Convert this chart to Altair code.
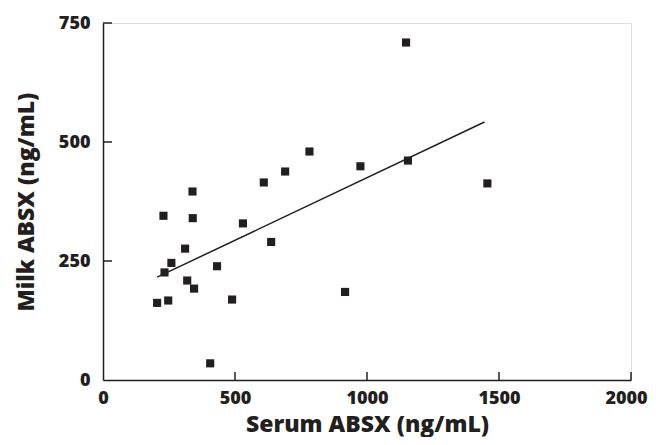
import altair as alt
import pandas as pd

serum = [782, 975, 690, 609, 339, 229, 340, 530, 637, 311, 259, 233, 432, 319,
         345, 205, 247, 489, 917, 406, 1148, 1155, 1456]
milk = [480, 449, 438, 415, 396, 345, 340, 329, 290, 276, 246, 226, 239, 209,
        192, 162, 167, 169, 185, 35, 709, 461, 413]

fit_x = [205, 1445]
fit_y = [216, 542]

x_ticks = [500, 1000, 1500, 2000]
y_ticks = [250, 500, 750]

W, H = 528, 357
INK = "#231f20"
FONT = "Open Sans"

pts = pd.DataFrame({"serum": serum, "milk": milk})
fit = pd.DataFrame({"serum": fit_x, "milk": fit_y})
xt = pd.DataFrame({"v": x_ticks})
yt = pd.DataFrame({"v": y_ticks})

xscale = alt.Scale(domain=[0, 2000], nice=False, zero=False)
yscale = alt.Scale(domain=[0, 750], nice=False, zero=False)

xaxis = alt.Axis(title="Serum ABSX (ng/mL)", values=[0, 500, 1000, 1500, 2000], format="d",
                 grid=False, ticks=False, domainColor=INK, domainWidth=1.5,
                 labelFont=FONT, labelFontSize=18, labelFontWeight=800, labelColor=INK,
                 labelPadding=9, titleFont=FONT, titleFontSize=23, titleFontWeight=800,
                 titleColor=INK, titlePadding=6, labelFlush=False,
                 labelOffset={"condition": {"test": "datum.value == 2000", "value": -5}, "value": 0})
yaxis = alt.Axis(title="Milk ABSX (ng/mL)", values=[0, 250, 500, 750], format="d",
                 grid=False, ticks=False, domainColor=INK, domainWidth=1.5,
                 labelFont=FONT, labelFontSize=18, labelFontWeight=800, labelColor=INK,
                 labelPadding=13, titleFont=FONT, titleFontSize=23, titleFontWeight=800,
                 titleColor=INK, titlePadding=20, labelFlush=False)

points = alt.Chart(pts).mark_square(size=66, color=INK, opacity=1).encode(
    x=alt.X("serum:Q", scale=xscale, axis=xaxis),
    y=alt.Y("milk:Q", scale=yscale, axis=yaxis),
)

line = alt.Chart(fit).mark_line(color=INK, strokeWidth=1.5).encode(
    x=alt.X("serum:Q", scale=xscale),
    y=alt.Y("milk:Q", scale=yscale),
)

xtick_marks = alt.Chart(xt).mark_rule(color=INK, strokeWidth=1.5).encode(
    x=alt.X("v:Q", scale=xscale),
    y=alt.value(H),
    y2=alt.value(H - 8),
)
ytick_marks = alt.Chart(yt).mark_rule(color=INK, strokeWidth=1.5).encode(
    y=alt.Y("v:Q", scale=yscale),
    x=alt.value(0),
    x2=alt.value(9),
)

chart = alt.layer(xtick_marks, ytick_marks, line, points).properties(
    width=W, height=H,
    autosize=alt.AutoSizeParams(type="none"),
    padding={"left": 95, "top": 15, "right": 17, "bottom": 57},
).configure_view(stroke=None).configure(background="white")

chart.save("out.html", embed_options={"renderer": "svg", "actions": False})
